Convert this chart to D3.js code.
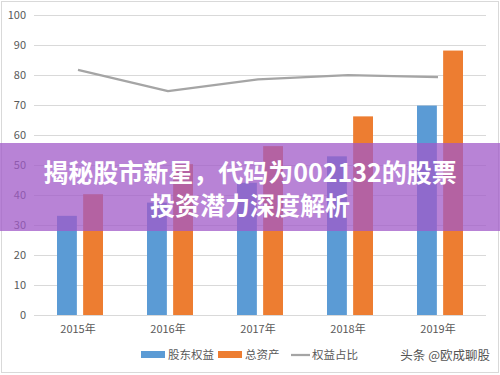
<!DOCTYPE html>
<html>
<head>
<meta charset="utf-8">
<script src="https://cdn.jsdelivr.net/npm/d3@7"></script>
<style>
  html, body { margin: 0; padding: 0; background: #fff; }
  svg { display: block; font-family: "Noto Sans CJK SC", "Noto Sans", sans-serif; }
</style>
</head>
<body>
<svg id="chart" width="500" height="375"></svg>
<script>
// Data
const years = ['2015年', '2016年', '2017年', '2018年', '2019年'];
const equity = [33, 37.4, 44, 52.8, 69.7];     // 股东权益
const assets = [40.2, 50.2, 56.2, 66.1, 88];   // 总资产
const ratio = [81.6, 74.5, 78.4, 79.8, 79.2];  // 权益占比
const yTicks = [0, 10, 20, 30, 40, 50, 60, 70, 80, 90, 100];
const seriesNames = ['股东权益', '总资产', '权益占比'];

const colors = { equity: '#5b9bd5', assets: '#ed7d31', ratio: '#a5a5a5' };

const svg = d3.select('#chart');

// Border
svg.append('rect')
  .attr('x', 1.5).attr('y', 1.5)
  .attr('width', 497).attr('height', 371)
  .attr('fill', '#fff')
  .attr('stroke', '#d9d9d9');

// Scales
const x = d3.scaleBand().domain(years).range([33, 483]);
const y = d3.scaleLinear().domain([0, 100]).range([315, 14.5]);

// Gridlines
svg.append('g')
  .selectAll('line')
  .data(yTicks.slice(1))
  .join('line')
  .attr('x1', 34).attr('x2', 486)
  .attr('y1', (d) => Math.round(y(d)) + 0.5)
  .attr('y2', (d) => Math.round(y(d)) + 0.5)
  .attr('stroke', '#d9d9d9');

// Y axis labels
svg.append('g')
  .selectAll('text')
  .data(yTicks)
  .join('text')
  .attr('x', 26)
  .attr('y', (d) => y(d) + 4)
  .attr('text-anchor', 'end')
  .attr('font-size', 11)
  .attr('fill', '#595959')
  .text((d) => d);

// X axis line
svg.append('line')
  .attr('x1', 34).attr('x2', 486)
  .attr('y1', 315.5).attr('y2', 315.5)
  .attr('stroke', '#d9d9d9');

// X labels
svg.append('g')
  .selectAll('text')
  .data(years)
  .join('text')
  .attr('x', (d) => x(d) + x.bandwidth() / 2)
  .attr('y', 333)
  .attr('text-anchor', 'middle')
  .attr('font-size', 11)
  .attr('fill', '#595959')
  .text((d) => d);

// Bars
const inner = d3.scaleBand().domain(['equity', 'assets']).range([24, 70]).paddingInner(0.24);

const bars = svg.append('g');
bars.selectAll('rect.eq')
  .data(equity)
  .join('rect')
  .attr('class', 'eq')
  .attr('x', (d, i) => x(years[i]) + inner('equity'))
  .attr('y', (d) => y(d))
  .attr('width', inner.bandwidth())
  .attr('height', (d) => y(0) - y(d))
  .attr('fill', colors.equity);

bars.selectAll('rect.as')
  .data(assets)
  .join('rect')
  .attr('class', 'as')
  .attr('x', (d, i) => x(years[i]) + inner('assets'))
  .attr('y', (d) => y(d))
  .attr('width', inner.bandwidth())
  .attr('height', (d) => y(0) - y(d))
  .attr('fill', colors.assets);

// Ratio line
const line = d3.line()
  .x((d, i) => x(years[i]) + x.bandwidth() / 2)
  .y((d) => y(d));

svg.append('path')
  .datum(ratio)
  .attr('d', line)
  .attr('fill', 'none')
  .attr('stroke', colors.ratio)
  .attr('stroke-width', 2.25)
  .attr('stroke-linejoin', 'round');

// Legend
const legend = svg.append('g').attr('font-size', 11.5).attr('fill', '#595959');
legend.append('rect').attr('x', 141).attr('y', 351).attr('width', 24).attr('height', 7).attr('fill', colors.equity);
legend.append('text').attr('x', 168).attr('y', 359).text(seriesNames[0]);
legend.append('rect').attr('x', 218).attr('y', 351).attr('width', 24).attr('height', 7).attr('fill', colors.assets);
legend.append('text').attr('x', 245).attr('y', 359).text(seriesNames[1]);
legend.append('line').attr('x1', 291).attr('x2', 310).attr('y1', 355).attr('y2', 355)
  .attr('stroke', colors.ratio).attr('stroke-width', 2.25);
legend.append('text').attr('x', 312).attr('y', 359).text(seriesNames[2]);

// Watermark
svg.append('text')
  .attr('x', 490).attr('y', 360)
  .attr('text-anchor', 'end')
  .attr('font-size', 12.5)
  .attr('fill', '#555')
  .text('头条 @欧成聊股');

// Title overlay band
svg.append('rect')
  .attr('x', 0).attr('y', 143)
  .attr('width', 500).attr('height', 88)
  .attr('fill', 'rgba(160, 90, 200, 0.75)');

const title = svg.append('g')
  .attr('text-anchor', 'middle')
  .attr('font-size', 25)
  .attr('font-weight', 'bold')
  .attr('fill', '#fff');
title.append('text').attr('x', 250).attr('y', 182).text('揭秘股市新星，代码为002132的股票');
title.append('text').attr('x', 250).attr('y', 215).text('投资潜力深度解析');
</script>
</body>
</html>
